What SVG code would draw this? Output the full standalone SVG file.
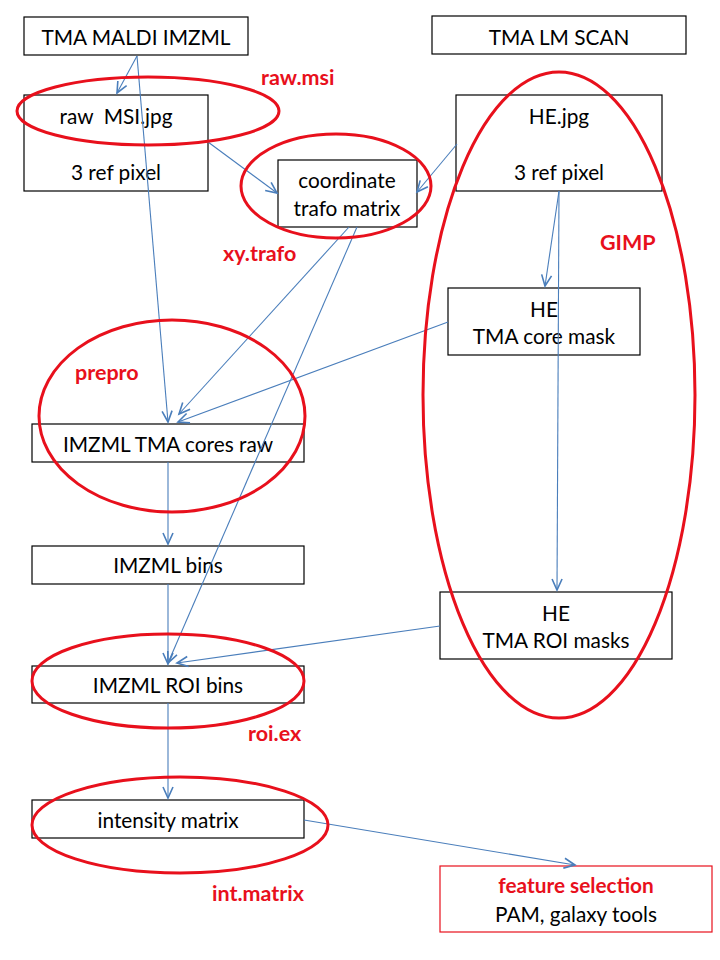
<svg xmlns="http://www.w3.org/2000/svg" width="720" height="960" viewBox="0 0 720 960">
<style>
.box{fill:#fff;stroke:#000;stroke-width:1.2}
.t{font-family:Lato,"Open Sans","Liberation Sans",sans-serif;font-size:20.8px;fill:#000;text-anchor:middle}
.r{font-family:Lato,"Open Sans","Liberation Sans",sans-serif;font-size:21.5px;font-weight:bold;fill:#e8101c}
.ell{fill:none;stroke:#e8101c;stroke-width:3}
.c{fill:none;stroke:#4a7ebb;stroke-width:1.1;marker-end:url(#ah)}
</style>
<defs>
<marker id="ah" markerUnits="userSpaceOnUse" markerWidth="16" markerHeight="16" refX="12" refY="6" viewBox="0 0 16 12" orient="auto">
<path d="M1,1 L12,6 L1,11" fill="none" stroke="#4a7ebb" stroke-width="1.6"/>
</marker>
</defs>
<rect width="720" height="960" fill="#fff"/>
<g id="n-maldi"><rect class="box" x="24" y="17" width="224" height="38"/><text class="t" x="136" y="45">TMA MALDI IMZML</text></g>
<g id="n-rawmsi"><rect class="box" x="24" y="95" width="184" height="96"/><text class="t" x="116" y="124" xml:space="preserve">raw  MSI.jpg</text><text class="t" x="116" y="180">3 ref pixel</text></g>
<g id="n-coord"><rect class="box" x="278" y="160" width="139" height="67"/><text class="t" x="347" y="188">coordinate</text><text class="t" x="347" y="216">trafo matrix</text></g>
<g id="n-lmscan"><rect class="box" x="432" y="16" width="254" height="38"/><text class="t" x="559" y="45">TMA LM SCAN</text></g>
<g id="n-hejpg"><rect class="box" x="456" y="95" width="206" height="96"/><text class="t" x="559" y="124">HE.jpg</text><text class="t" x="559" y="180">3 ref pixel</text></g>
<g id="n-coremask"><rect class="box" x="448" y="288" width="192" height="67"/><text class="t" x="544" y="317">HE</text><text class="t" x="544" y="344">TMA core mask</text></g>
<g id="n-coresraw"><rect class="box" x="32" y="424" width="272" height="38"/><text class="t" x="168" y="452">IMZML TMA cores raw</text></g>
<g id="n-bins"><rect class="box" x="32" y="546" width="272" height="38"/><text class="t" x="168" y="573">IMZML bins</text></g>
<g id="n-roimasks"><rect class="box" x="440" y="592" width="232" height="67"/><text class="t" x="556" y="621">HE</text><text class="t" x="556" y="648">TMA ROI masks</text></g>
<g id="n-roibins"><rect class="box" x="32" y="666" width="272" height="37"/><text class="t" x="168" y="693">IMZML ROI bins</text></g>
<g id="n-intmatrix"><rect class="box" x="32" y="800" width="272" height="38"/><text class="t" x="168" y="828">intensity matrix</text></g>
<g id="n-feature"><rect x="440" y="866" width="272" height="66" fill="#fff" stroke="#e8101c" stroke-width="1.2"/><text class="t" x="576" y="893" style="font-weight:bold;fill:#e8101c">feature selection</text><text class="t" x="576" y="922">PAM, galaxy tools</text></g>
<g id="connectors">
<line class="c" x1="137" y1="56" x2="117" y2="93"/>
<line class="c" x1="137" y1="56" x2="168" y2="422"/>
<line class="c" x1="208" y1="142" x2="277" y2="193"/>
<line class="c" x1="457" y1="144" x2="417" y2="192"/>
<line class="c" x1="349" y1="227" x2="179" y2="414"/>
<line class="c" x1="357" y1="227" x2="168" y2="663"/>
<line class="c" x1="448" y1="322" x2="178" y2="422"/>
<line class="c" x1="559" y1="191" x2="545" y2="286"/>
<line class="c" x1="559" y1="191" x2="557" y2="590"/>
<line class="c" x1="168" y1="462" x2="168" y2="544"/>
<line class="c" x1="168" y1="584" x2="168" y2="664"/>
<line class="c" x1="440" y1="626" x2="177" y2="663"/>
<line class="c" x1="168" y1="703" x2="168" y2="798"/>
<line class="c" x1="304" y1="820" x2="575" y2="865"/>
</g>
<g id="annotations">
<ellipse class="ell" cx="148" cy="111" rx="131" ry="34"/>
<ellipse class="ell" cx="336" cy="186" rx="95" ry="52"/>
<ellipse class="ell" cx="559" cy="395" rx="136" ry="323"/>
<ellipse class="ell" cx="172" cy="416" rx="133" ry="96"/>
<ellipse class="ell" cx="168" cy="681" rx="136" ry="47"/>
<ellipse class="ell" cx="180" cy="825" rx="148" ry="48"/>
<text class="r" x="261" y="85">raw.msi</text>
<text class="r" x="223" y="261">xy.trafo</text>
<text class="r" x="75" y="380">prepro</text>
<text class="r" x="600" y="250">GIMP</text>
<text class="r" x="248" y="741">roi.ex</text>
<text class="r" x="212" y="901">int.matrix</text>
</g>
</svg>
